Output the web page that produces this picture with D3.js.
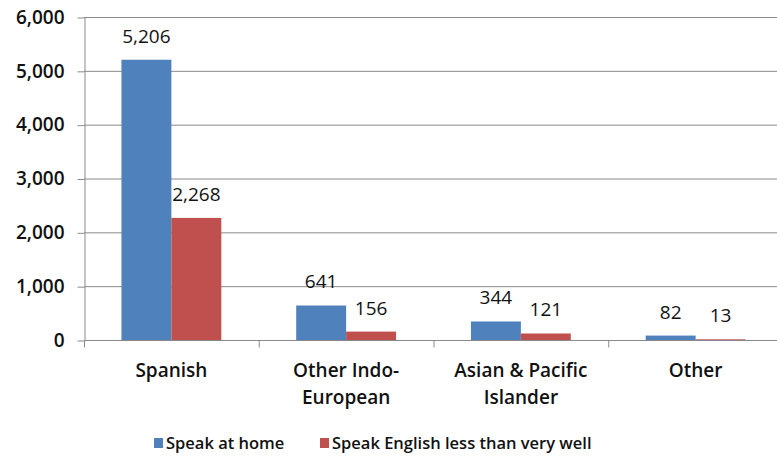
<!DOCTYPE html>
<html>
<head>
<meta charset="utf-8">
<script src="https://cdn.jsdelivr.net/npm/d3@7"></script>
<style>
  html, body { margin: 0; padding: 0; background: #fff; }
  svg text { font-family: "Open Sans", "Lato", sans-serif; fill: #111; }
</style>
</head>
<body>
<svg id="chart" width="777" height="457"></svg>
<script>
// Language groups and counts
const categories = [["Spanish"], ["Other Indo-", "European"], ["Asian & Pacific", "Islander"], ["Other"]];
const seriesNames = ["Speak at home", "Speak English less than very well"];
const speakAtHome = [5206, 641, 344, 82];
const speakLessThanVeryWell = [2268, 156, 121, 13];
const yTicks = [0, 1000, 2000, 3000, 4000, 5000, 6000];
const colors = ["#4F81BD", "#C0504D"];

const svg = d3.select("#chart");
const plotLeft = 84, plotRight = 783, plotTop = 17, plotBottom = 340;
const axisColor = "#8a8a8a";

const keys = categories.map((c, i) => i);
const x = d3.scaleBand().domain(keys).range([plotLeft, plotRight]).paddingInner(0).paddingOuter(0);
const x1 = d3.scaleBand().domain([0, 1]).range([0, x.bandwidth()]).paddingInner(0).paddingOuter(0.75);
const y = d3.scaleLinear().domain([0, 6000]).range([plotBottom, plotTop]);

// horizontal gridlines
svg.append("g").selectAll("line").data(yTicks.filter(d => d > 0)).join("line")
  .attr("x1", plotLeft).attr("x2", 777)
  .attr("y1", d => y(d) + 0.5).attr("y2", d => y(d) + 0.5)
  .attr("stroke", axisColor).attr("stroke-width", 1);

// value axis
const yAxis = d3.axisLeft(y).tickValues(yTicks).tickSize(7).tickSizeOuter(0).tickPadding(13).tickFormat(d3.format(","));
const gy = svg.append("g").attr("transform", `translate(${plotLeft + 0.5},0.5)`).call(yAxis);
gy.select(".domain").attr("stroke", axisColor);
gy.selectAll(".tick line").attr("stroke", axisColor);
gy.selectAll(".tick text").attr("font-size", 19).attr("font-weight", 600)
  .style("font-family", "'Open Sans', sans-serif").attr("fill", "#111").attr("dy", "0.3em");

// category axis
const gx = svg.append("g").attr("transform", `translate(0,${plotBottom + 0.5})`);
gx.append("line").attr("x1", plotLeft).attr("x2", 777).attr("y1", 0).attr("y2", 0).attr("stroke", axisColor);
gx.selectAll(".tk").data(keys.concat([keys.length])).join("line").attr("class", "tk")
  .attr("x1", d => plotLeft + 0.5 + d * x.bandwidth()).attr("x2", d => plotLeft + 0.5 + d * x.bandwidth())
  .attr("y1", 0).attr("y2", 7).attr("stroke", axisColor);
const labels = gx.selectAll(".cl").data(categories).join("text").attr("class", "cl")
  .attr("text-anchor", "middle").attr("font-size", 19).attr("font-weight", 600)
  .attr("transform", (d, i) => `translate(${x(i) + x.bandwidth() / 2},0)`);
labels.selectAll("tspan").data(d => d).join("tspan")
  .attr("x", 0).attr("y", (d, j) => 36 + j * 27).text(d => d);

// bars and value labels
const series = [speakAtHome, speakLessThanVeryWell];
series.forEach((vals, s) => {
  const g = svg.append("g");
  g.selectAll("rect").data(vals).join("rect")
    .attr("x", (d, i) => x(i) + x1(s))
    .attr("width", x1.bandwidth())
    .attr("y", d => y(d))
    .attr("height", d => y(0) - y(d))
    .attr("fill", colors[s]);
  g.selectAll("text").data(vals).join("text")
    .attr("x", (d, i) => x(i) + x1(s) + x1.bandwidth() / 2)
    .attr("y", d => y(d) - 17)
    .attr("text-anchor", "middle").attr("font-size", 19).attr("font-weight", 500)
    .text(d => d3.format(",")(d));
});

// legend
const legend = svg.append("g").attr("transform", "translate(154,449)");
const legendX = [0, 166];
seriesNames.forEach((n, i) => {
  const item = legend.append("g").attr("transform", `translate(${legendX[i]},0)`);
  item.append("rect").attr("x", 0).attr("y", -11).attr("width", 9).attr("height", 10).attr("fill", colors[i]);
  item.append("text").attr("x", 12).attr("y", 0).attr("font-size", 16.5).attr("font-weight", 600).text(n);
});
</script>
</body>
</html>
